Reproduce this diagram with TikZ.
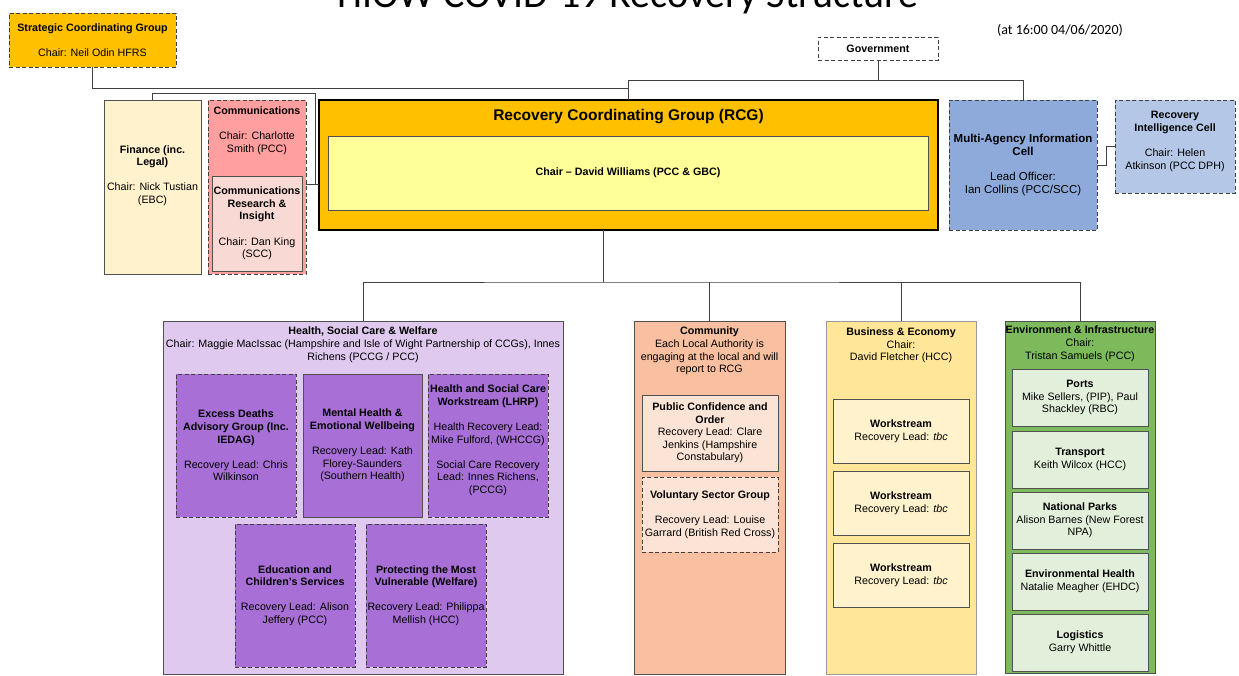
\documentclass[tikz,border=0pt]{standalone}
\usepackage{fontspec}
\setmainfont{Liberation Sans}
\newfontfamily\titlefont{Carlito}
\usetikzlibrary{positioning}

\definecolor{scgorange}{HTML}{FFC000}
\definecolor{chairyellow}{HTML}{FFFF99}
\definecolor{financecream}{HTML}{FFF2CC}
\definecolor{commspink}{HTML}{FF9F9F}
\definecolor{commslight}{HTML}{F9D9D3}
\definecolor{maicblue}{HTML}{8EAADB}
\definecolor{ricblue}{HTML}{B4C7E7}
\definecolor{hswlilac}{HTML}{DFC9EE}
\definecolor{hswpurple}{HTML}{A870D6}
\definecolor{commpeach}{HTML}{F8C0A0}
\definecolor{commlight}{HTML}{FBE4D5}
\definecolor{bizyellow}{HTML}{FFE699}
\definecolor{bizcream}{HTML}{FFF2CC}
\definecolor{envgreen}{HTML}{7CBA5C}
\definecolor{envlight}{HTML}{E2EFDA}
\definecolor{dashgray}{HTML}{404040}
\definecolor{linegray}{HTML}{505050}

\newcommand{\skipln}{\\[12.6pt]}

\tikzset{
  spanning/.style n args={4}{at={({(#1+#3)/2},{(#2+#4)/2})},
    minimum width={(#3-#1)*1pt}, minimum height={(#4-#2)*1pt}},
  plainbox/.style={draw=linegray, line width=0.8pt, align=center, inner sep=1pt,
    outer sep=0pt, font=\fontsize{10.7}{12.6}\selectfont},
  dashbox/.style={plainbox, draw=dashgray, dash pattern=on 4pt off 2.5pt},
  heading/.style={align=center, inner sep=0pt, font=\fontsize{10.7}{12.6}\selectfont},
  link/.style={draw=dashgray, line width=0.8pt},
}

\begin{document}
\begin{tikzpicture}[x=1pt, y=-1pt]
  \useasboundingbox (0,0) rectangle (1239,675);

  % title and date
  \node[anchor=base, inner sep=0pt, font=\titlefont\fontsize{40}{48}\selectfont] (title) at (628,7) {HIOW COVID-19 Recovery Structure};
  \node[anchor=base, inner sep=0pt, font=\titlefont\fontsize{14}{16}\selectfont] (stamp) at (1060,34) {(at 16:00 04/06/2020)};

  % top level
  \node[dashbox, fill=scgorange, spanning={9}{13}{176}{67}] (scg) {\textbf{Strategic Coordinating Group}\skipln Chair: Neil Odin HFRS};
  \node[dashbox, fill=white, spanning={818}{37}{938}{60}] (gov) {\textbf{Government}};

  \node[plainbox, draw=black, line width=1.6pt, fill=scgorange, spanning={319}{100}{938}{230}] (rcg) {};
  \node[heading, font=\bfseries\fontsize{15.5}{18}\selectfont, below=9pt of rcg.north] (rcgtitle) {Recovery Coordinating Group (RCG)};
  \node[plainbox, fill=chairyellow, spanning={328}{136}{928}{210}] (rcgchair) {\textbf{Chair -- David Williams (PCC \& GBC)}};

  \node[plainbox, fill=financecream, spanning={104}{100}{201}{274}] (fin) {\textbf{Finance (inc.}\\\textbf{Legal)}\skipln Chair: Nick Tustian\\(EBC)\\ \mbox{}\\ \mbox{}};

  \node[dashbox, fill=commspink, spanning={208}{100}{306}{274}] (comms) {};
  \node[heading, below=6.5pt of comms.north] (commstitle) {\textbf{Communications}\skipln Chair: Charlotte\\Smith (PCC)};
  \node[plainbox, fill=commslight, spanning={212}{176}{302}{271}] (cri) {\textbf{Communications}\\\textbf{Research \&}\\\textbf{Insight}\skipln Chair: Dan King\\(SCC)};

  \node[dashbox, fill=maicblue, font=\fontsize{11.5}{12.6}\selectfont, spanning={949}{100}{1097}{230}] (maic) {\textbf{Multi-Agency Information}\\\textbf{Cell}\skipln Lead Officer:\\Ian Collins (PCC/SCC)};
  \node[dashbox, fill=ricblue, spanning={1115}{100}{1235}{193}] (ric) {\textbf{Recovery}\\\textbf{Intelligence Cell}\skipln Chair: Helen\\Atkinson (PCC DPH)\\ \mbox{}};

  % Health, Social Care & Welfare
  \node[plainbox, fill=hswlilac, spanning={163}{321}{563}{674}] (hsw) {};
  \node[heading, below=6pt of hsw.north] (hswtitle) {\textbf{Health, Social Care \& Welfare}\\Chair: Maggie MacIssac (Hampshire and Isle of Wight Partnership of CCGs), Innes\\Richens (PCCG / PCC)};
  \node[dashbox, fill=hswpurple, spanning={176}{374}{296}{517}] (edag) {\textbf{Excess Deaths}\\\textbf{Advisory Group (Inc.}\\\textbf{IEDAG)}\skipln Recovery Lead: Chris\\Wilkinson};
  \node[plainbox, fill=hswpurple, spanning={303}{374}{422}{517}] (mhew) {\textbf{Mental Health \&}\\\textbf{Emotional Wellbeing}\skipln Recovery Lead: Kath\\Florey-Saunders\\(Southern Health)};
  \node[dashbox, fill=hswpurple, spanning={428}{374}{548}{517}] (lhrp) {\textbf{Health and Social Care}\\\textbf{Workstream (LHRP)}\skipln Health Recovery Lead:\\Mike Fulford, (WHCCG)\skipln Social Care Recovery\\Lead: Innes Richens,\\(PCCG)\\ \mbox{}};
  \node[dashbox, fill=hswpurple, spanning={235}{524}{355}{667}] (educ) {\textbf{Education and}\\\textbf{Children's Services}\skipln Recovery Lead: Alison\\Jeffery (PCC)};
  \node[dashbox, fill=hswpurple, spanning={366}{524}{486}{667}] (pmv) {\textbf{Protecting the Most}\\\textbf{Vulnerable (Welfare)}\skipln Recovery Lead: Philippa\\Mellish (HCC)};

  % Community
  \node[plainbox, fill=commpeach, spanning={634}{321}{785}{674}] (comm) {};
  \node[heading, below=6pt of comm.north] (commtitle) {\textbf{Community}\\Each Local Authority is\\engaging at the local and will\\report to RCG};
  \node[plainbox, fill=commlight, spanning={642}{395}{778}{471}] (pco) {\textbf{Public Confidence and}\\\textbf{Order}\\Recovery Lead: Clare\\Jenkins (Hampshire\\Constabulary)};
  \node[dashbox, fill=commlight, spanning={642}{477}{778}{552}] (vsg) {\textbf{Voluntary Sector Group}\skipln Recovery Lead: Louise\\Garrard (British Red Cross)};

  % Business & Economy
  \node[plainbox, draw=black!40, fill=bizyellow, spanning={826}{321}{976}{674}] (biz) {};
  \node[heading, below=6.5pt of biz.north] (biztitle) {\textbf{Business \& Economy}\\Chair:\\David Fletcher (HCC)};
  \node[plainbox, fill=bizcream, spanning={833}{399}{969}{463}] (ws1) {\textbf{Workstream}\\Recovery Lead: \textit{tbc}};
  \node[plainbox, fill=bizcream, minimum width=136pt, minimum height=64pt, below=8pt of ws1] (ws2) {\textbf{Workstream}\\Recovery Lead: \textit{tbc}};
  \node[plainbox, fill=bizcream, minimum width=136pt, minimum height=64pt, below=8pt of ws2] (ws3) {\textbf{Workstream}\\Recovery Lead: \textit{tbc}};

  % Environment & Infrastructure
  \node[plainbox, fill=envgreen, spanning={1005}{321}{1155}{673}] (env) {};
  \node[heading, below=5pt of env.north] (envtitle) {\textbf{Environment \& Infrastructure}\\Chair:\\Tristan Samuels (PCC)};
  \node[plainbox, fill=envlight, spanning={1012}{369}{1148}{426}] (ports) {\textbf{Ports}\\Mike Sellers, (PIP), Paul\\Shackley (RBC)};
  \node[plainbox, fill=envlight, minimum width=136pt, minimum height=57pt, below=5pt of ports] (transport) {\textbf{Transport}\\Keith Wilcox (HCC)};
  \node[plainbox, fill=envlight, minimum width=136pt, minimum height=57pt, below=4pt of transport] (parks) {\textbf{National Parks}\\Alison Barnes (New Forest\\NPA)};
  \node[plainbox, fill=envlight, minimum width=136pt, minimum height=57pt, below=4pt of parks] (envhealth) {\textbf{Environmental Health}\\Natalie Meagher (EHDC)};
  \node[plainbox, fill=envlight, minimum width=136pt, minimum height=57pt, below=4pt of envhealth] (logistics) {\textbf{Logistics}\\Garry Whittle};

  % connectors
  \coordinate (rcgtee) at (628.5,80);
  \coordinate (scgtee) at (628.5,88);
  \coordinate (finrail) at (315,93);
  \coordinate (rcgleft) at (319,184);
  \coordinate (branch) at (603,282);

  \draw[link] (rcg.north) -- (rcgtee) -| (maic.north);
  \draw[link] (gov.south) -- (gov.south |- rcgtee);
  \draw[link] (scg.south) |- (scgtee);
  \draw[link] (fin.north) |- (finrail) -- (finrail |- rcgleft) -- (rcgleft);
  \draw[link] (comms.east |- rcgleft) -- (rcgleft);
  \draw[link] (maic.east) -- ++(9,0) |- (ric.west);

  \draw[link] (branch |- rcg.south) -- (branch);
  \draw[link] (hsw.north) |- (branch) -| (env.north);
  \draw[link] (comm.north) -- (comm.north |- branch);
  \draw[link] (biz.north) -- (biz.north |- branch);
\end{tikzpicture}
\end{document}
